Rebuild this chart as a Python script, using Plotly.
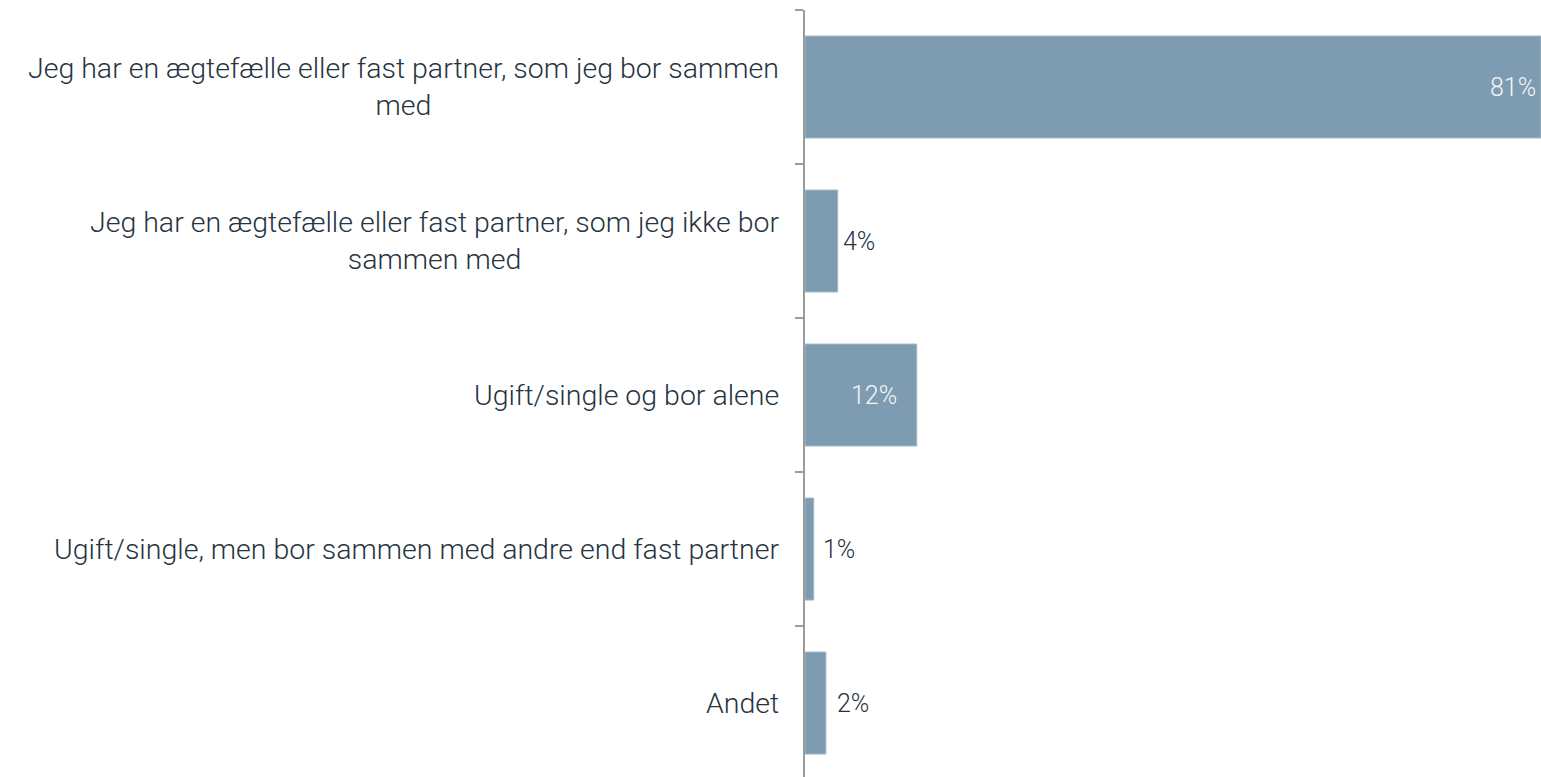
import plotly.graph_objects as go

categories = [
    "Jeg har en ægtefælle eller fast partner, som jeg bor sammen<br>med",
    "Jeg har en ægtefælle eller fast partner, som jeg ikke bor<br>sammen med",
    "Ugift/single og bor alene",
    "Ugift/single, men bor sammen med andre end fast partner",
    "Andet",
]
values = [81.0, 3.6, 12.3, 0.96, 2.3]
value_labels = ["81%", "4%", "12%", "1%", "2%"]

# styling for the value labels (inside = white, right-aligned at bar end)
label_inside = [True, False, True, False, False]
label_shift = [-3, 3, -18, 7, 9]

bar_color = "#7d9bb1"
text_color = "#26343f"
axis_color = "#9b9b9b"
cat_font = "Roboto, 'Open Sans', sans-serif"
val_font = "Roboto, 'Open Sans', sans-serif"

fig = go.Figure()
fig.add_trace(go.Bar(
    x=values,
    y=categories,
    orientation="h",
    marker=dict(color=bar_color, line=dict(color="#a3b8c8", width=1)),
    hoverinfo="skip",
))

annotations = []
for cat in categories:
    annotations.append(dict(
        xref="paper", x=0, xanchor="right", xshift=-24,
        yref="y", y=cat, yanchor="middle",
        text=cat, showarrow=False, align="center",
        font=dict(family=cat_font, size=28.5, weight=300, color=text_color),
    ))
for cat, v, lab, inside, sh in zip(categories, values, value_labels, label_inside, label_shift):
    annotations.append(dict(
        xref="x", x=v, xanchor="right" if inside else "left", xshift=sh,
        yref="y", y=cat, yanchor="middle",
        text=lab, showarrow=False,
        font=dict(family=val_font, size=25, weight=300,
                  color="#f3f6f8" if inside else text_color),
    ))

fig.update_layout(
    width=1541, height=777,
    margin=dict(l=805, r=0, t=10, b=0),
    paper_bgcolor="white", plot_bgcolor="white",
    bargap=0.338,
    showlegend=False,
    annotations=annotations,
    xaxis=dict(range=[0, 81.0], visible=False, fixedrange=True),
    yaxis=dict(
        type="category",
        categoryorder="array", categoryarray=categories,
        range=[4.48, -0.5],
        showticklabels=False,
        showline=True, linecolor=axis_color, linewidth=2,
        ticks="outside", tickson="boundaries", ticklen=8,
        tickwidth=2, tickcolor=axis_color,
        showgrid=False, zeroline=False, fixedrange=True,
    ),
)

fig.write_html(
    "out.html",
    config={"displayModeBar": False},
    post_script="document.body.style.margin='0px';document.body.style.overflow='hidden';",
)
